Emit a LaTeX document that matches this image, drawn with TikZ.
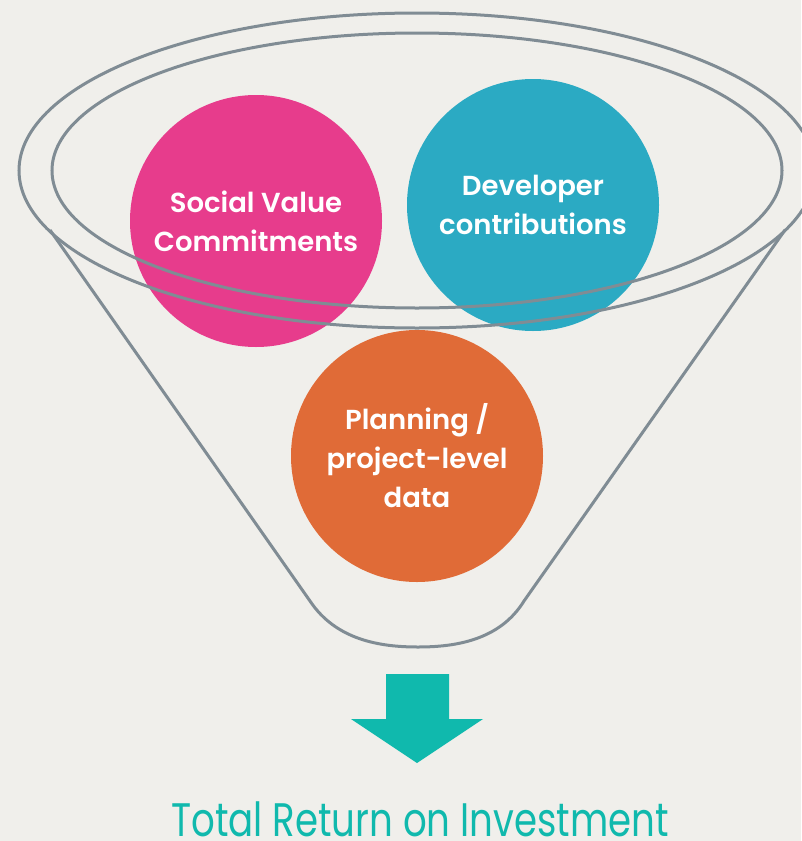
\documentclass[tikz,border=0pt]{standalone}
\usepackage{fontspec}
\setmainfont{Poppins}
\newfontfamily\circlefont{Poppins SemiBold}
\newfontfamily\roifont{Poppins}[FakeStretch=0.79]
\definecolor{bgcol}{HTML}{F0EFEB}
\definecolor{rimgray}{HTML}{808C94}
\definecolor{socialpink}{HTML}{E73C8C}
\definecolor{devteal}{HTML}{2BAAC3}
\definecolor{planorange}{HTML}{E06B37}
\definecolor{roiteal}{HTML}{10B9AD}
\tikzset{rim/.style={draw=rimgray,line width=3pt}}
\begin{document}
\begin{tikzpicture}[x=1pt,y=-1pt]

      \fill[bgcol] (0,0) rectangle (801,841);
      \useasboundingbox (0,0) rectangle (801,841);

      \begin{scope}[every node/.style={circle,minimum size=252pt,inner sep=0pt,text=white,align=center,font=\circlefont\fontsize{27.5}{39}\selectfont}]
        \node[fill=socialpink] (social)    at (256,221) {Social Value\\Commitments};
        \node[fill=devteal]    (developer) at (533,205) {Developer\\contributions};
        \node[fill=planorange] (planning)  at (417,456) {Planning /\\project-level\\data};
      \end{scope}

      \path[rim] (417,170.5) ellipse [x radius=398pt, y radius=157.5pt];
      \path[rim] (417,170.5) ellipse [x radius=365pt, y radius=137.5pt];
      \path[rim] (50,230) -- (310,601) .. controls (336,640) and (380,647) .. (418,647)
        .. controls (456,647) and (500,640) .. (524,601) -- (785,230);

      \fill[roiteal] (386,674) -- (449,674) -- (449,719) -- (483,719) -- (417,763)
        -- (351,719) -- (386,719) -- cycle;

      \node[anchor=base,inner sep=0pt,text=roiteal,font=\roifont\fontsize{47}{50}\selectfont] (roi) at (420,836) {Total Return on Investment};

    \end{tikzpicture}
\end{document}
